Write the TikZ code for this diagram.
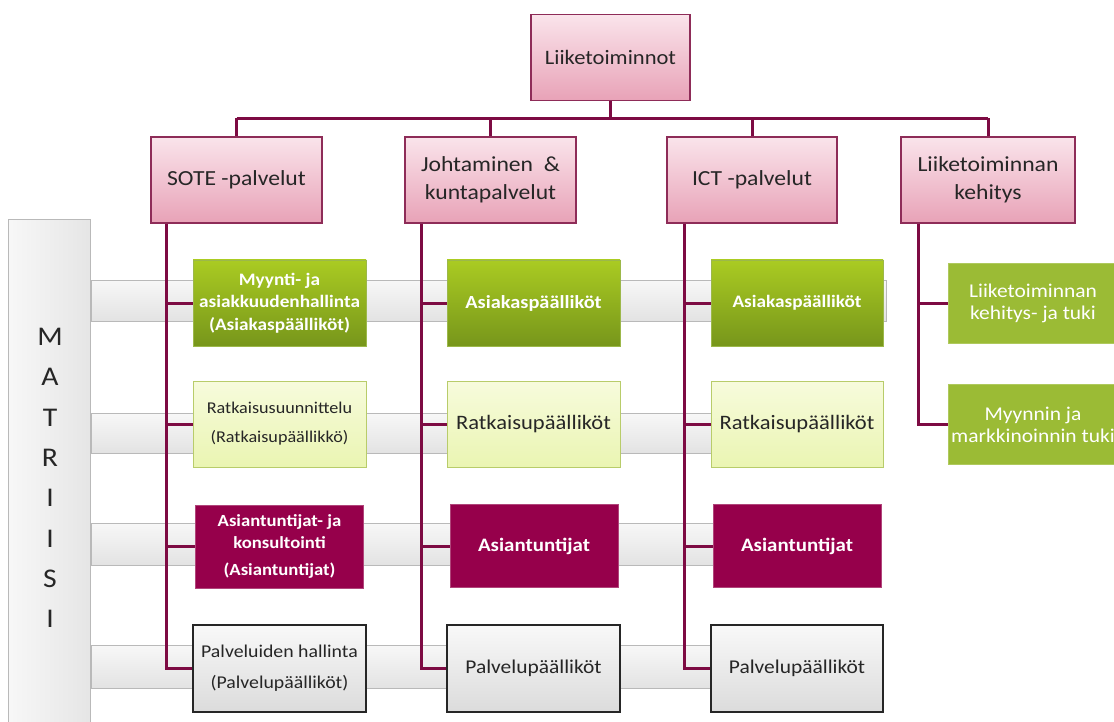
\documentclass[tikz,border=0pt]{standalone}
\usepackage{fontspec}
\setmainfont{Carlito}[FakeStretch=1.1]
\usepackage{tikz}

\definecolor{wine}{HTML}{7D0B43}
\definecolor{ink}{HTML}{262626}
\definecolor{pinktop}{HTML}{FAE4EB}
\definecolor{pinkbot}{HTML}{E8A2B7}
\definecolor{pinkline}{HTML}{8E2C58}
\definecolor{greentop}{HTML}{AACB22}
\definecolor{greenbot}{HTML}{77961B}
\definecolor{greenline}{HTML}{9CB84A}
\definecolor{greenflat}{HTML}{9BBB35}
\definecolor{limetop}{HTML}{F7FBDC}
\definecolor{limebot}{HTML}{EAF5B2}
\definecolor{limeline}{HTML}{B8CC6A}
\definecolor{berry}{HTML}{96004B}
\definecolor{berryline}{HTML}{B0457A}

\begin{document}
\begin{tikzpicture}[x=1pt,y=-1pt,
  link/.style={draw=wine,line width=3pt},
  head node/.style={rectangle,draw=pinkline,line width=1.2pt,top color=pinktop,bottom color=pinkbot,
    minimum height=86pt,align=center,text=ink,font=\fontsize{21.5}{28.5}\selectfont},
  sales node/.style={rectangle,draw=greenline,line width=0.8pt,top color=greentop,bottom color=greenbot,
    minimum width=173pt,minimum height=86pt,align=center,text=white,font=\bfseries\fontsize{17.5}{22.5}\selectfont},
  solution node/.style={rectangle,draw=limeline,line width=0.8pt,top color=limetop,bottom color=limebot,
    minimum width=173pt,minimum height=86pt,align=center,text=ink,font=\fontsize{20.5}{29}\selectfont},
  expert node/.style={rectangle,draw=berryline,line width=0.6pt,fill=berry,
    minimum width=168pt,minimum height=83pt,align=center,text=white,font=\bfseries\fontsize{19}{24}\selectfont},
  service node/.style={rectangle,draw=ink,line width=1.2pt,top color=gray!5,bottom color=gray!28,
    minimum width=173pt,minimum height=87pt,align=center,text=ink,font=\fontsize{19.5}{31}\selectfont},
  dev node/.style={rectangle,draw=greenflat!80!white,fill=greenflat,
    minimum width=170pt,minimum height=80pt,align=center,text=white,font=\fontsize{19.5}{22}\selectfont},
  band/.style={draw=gray!55,line width=0.8pt,top color=gray!6,bottom color=gray!22}]

  \useasboundingbox (0,0) rectangle (1114,722);

  % matrix column on the left
  \node[rectangle,draw=gray!55,line width=1pt,left color=gray!6,right color=gray!20,
    minimum width=82pt,minimum height=520pt,anchor=north west] (matrix) at (8,219) {};
  \node[text=ink,align=center,font=\fontsize{27}{40.3}\selectfont] (matrixtext) at (50,478)
    {M\\A\\T\\R\\I\\I\\S\\I};

  % grey bands behind the rows
  \draw[band] (matrix.east |- 0,280) rectangle (886,321);
  \draw[band] (matrix.east |- 0,413) rectangle (883,453);
  \draw[band] (matrix.east |- 0,523) rectangle (881,565);
  \draw[band] (matrix.east |- 0,645) rectangle (883,688);

  % top levels
  \node[head node,minimum width=159pt,font=\fontsize{20.5}{28.5}\selectfont] (top) at (610.5,57.5) {Liiketoiminnot};
  \node[head node,minimum width=171pt] (sote) at (236.5,180) {SOTE -palvelut};
  \node[head node,minimum width=171pt] (johto) at (490.5,180) {Johtaminen~~\&\\kuntapalvelut};
  \node[head node,minimum width=170pt] (ict) at (752,180) {ICT -palvelut};
  \node[head node,minimum width=174pt] (kehitys) at (988,180) {Liiketoiminnan\\kehitys};

  % SOTE column
  \node[sales node] (s1) at (279.5,303) {Myynti- ja\\asiakkuudenhallinta\\(Asiakaspäälliköt)};
  \node[solution node,font=\fontsize{16.5}{29}\selectfont] (s2) at (279.5,424) {Ratkaisusuunnittelu\\(Ratkaisupäällikkö)};
  \node[expert node,font=\bfseries\fontsize{17}{22}\selectfont] (s3) at (279.5,546.5)
    {Asiantuntijat- ja\\konsultointi\\[5pt](Asiantuntijat)};
  \node[service node,font=\fontsize{18}{31}\selectfont] (s4) at (279.5,668.5) {Palveluiden hallinta\\(Palvelupäälliköt)};

  % Johtaminen column
  \node[sales node,font=\bfseries\fontsize{18.5}{22}\selectfont] (j1) at (533.5,303) {Asiakaspäälliköt};
  \node[solution node] (j2) at (533.5,424.5) {Ratkaisupäälliköt};
  \node[expert node] (j3) at (534,546) {Asiantuntijat};
  \node[service node] (j4) at (533.5,668.5) {Palvelupäälliköt};

  % ICT column
  \node[sales node,minimum width=172pt,font=\bfseries\fontsize{17.5}{22}\selectfont] (i1) at (797,303) {Asiakaspäälliköt};
  \node[solution node,minimum width=172pt] (i2) at (797,424.5) {Ratkaisupäälliköt};
  \node[expert node] (i3) at (797,546) {Asiantuntijat};
  \node[service node,minimum width=172pt] (i4) at (797,668.5) {Palvelupäälliköt};

  % kehitys column
  \node[dev node] (k1) at (1033,303) {Liiketoiminnan\\kehitys- ja tuki};
  \node[dev node] (k2) at (1033,424.5) {Myynnin ja\\markkinoinnin tuki};

  % tree lines
  \draw[link] (top.south) -- ++(0,17) coordinate (bar);
  \draw[link] (sote.north |- bar) -- (kehitys.north |- bar);
  \foreach \n in {sote,johto,ict,kehitys}
    \draw[link] (\n.north |- bar) -- (\n.north);

  \draw[link] (sote.south west) ++(16,0) coordinate (sv) |- (s4.west);
  \draw[link] (johto.south west) ++(17,0) coordinate (jv) |- (j4.west);
  \draw[link] (ict.south west) ++(18,0) coordinate (iv) |- (i4.west);
  \draw[link] (kehitys.south west) ++(18,0) coordinate (kv) |- (k2.west);
  \foreach \n in {s1,s2,s3}
    \draw[link] (sv |- \n.west) -- (\n.west);
  \foreach \n in {j1,j2,j3}
    \draw[link] (jv |- \n.west) -- (\n.west);
  \foreach \n in {i1,i2,i3}
    \draw[link] (iv |- \n.west) -- (\n.west);
  \draw[link] (kv |- k1.west) -- (k1.west);
\end{tikzpicture}
\end{document}
